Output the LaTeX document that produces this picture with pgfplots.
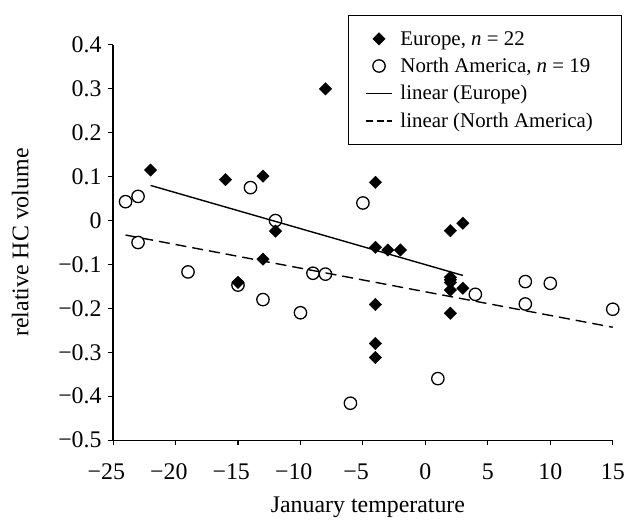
\documentclass[border=0pt]{standalone}
\usepackage{fontspec}
\setmainfont{Liberation Serif}
\usepackage{pgfplots}
\pgfplotsset{compat=1.18}

\begin{document}
\begin{tikzpicture}
\begin{axis}[
  scale only axis,
  width=500.7bp, height=396bp,
  xmin=-25, xmax=15, ymin=-0.5, ymax=0.4,
  axis lines*=left,
  x axis line style={-}, y axis line style={-},
  axis line style={line width=1.2bp},
  tick align=outside,
  major tick length=5bp,
  tick style={line width=1.1bp, black},
  xtick={-25,-20,-15,-10,-5,0,5,10,15},
  xticklabels={\llap{−}25,\llap{−}20,\llap{−}15,\llap{−}10,\llap{−}5,0,5,10,15},
  ytick={-0.5,-0.4,-0.3,-0.2,-0.1,0,0.1,0.2,0.3,0.4},
  yticklabels={−0.5,−0.4,−0.3,−0.2,−0.1,0,0.1,0.2,0.3,0.4},
  ticklabel style={font=\fontsize{24}{28}\selectfont},
  xticklabel style={yshift=-15bp},
  yticklabel style={xshift=-3bp},
  label style={font=\fontsize{24}{28}\selectfont},
  xlabel={January temperature},
  ylabel={relative HC volume},
  xlabel style={at={(axis description cs:0.51,-0.169)}, anchor=center},
  ylabel style={at={(axis description cs:-0.186,0.5)}, anchor=center},
  clip=false,
  legend cell align=left,
  legend style={
    at={(axis description cs:1.018,1.076)}, anchor=north east,
    draw=black, line width=0.8bp, fill=white,
    font=\fontsize{21}{25}\selectfont,
    row sep=7.5bp, inner xsep=6.5bp, inner ysep=14bp,
  },
  legend image code/.code={
    \path[draw=none, fill=none] (0bp,0bp) -- (44bp,0bp);
    \draw[mark repeat=2, mark phase=2, #1]
      plot coordinates {(11bp,0bp) (24.5bp,0bp) (38bp,0bp)};
  },
]
% Europe
\addplot[only marks, mark=square*, mark size=4.4bp,
  mark options={rotate=45, fill=black, draw=black, line width=0.4bp}]
  coordinates {
  (-22,0.115) (-16,0.093) (-13,0.101) (-8,0.300) (-12,-0.024)
  (-13,-0.088) (-15,-0.141) (-4,0.087) (-4,-0.061) (-3,-0.067)
  (-2,-0.067) (2,-0.023) (3,-0.006) (2,-0.129) (2,-0.135)
  (2,-0.141) (2,-0.158) (3,-0.154) (-4,-0.191) (2,-0.211)
  (-4,-0.280) (-4,-0.312)
};
\addlegendentry{Europe, \textit{n} = 22}
% North America
\addplot[only marks, mark=o, mark size=6.2bp,
  mark options={draw=black, line width=1.3bp}]
  coordinates {
  (-24,0.043) (-23,0.055) (-14,0.075) (-12,0.000) (-5,0.040)
  (-23,-0.050) (-19,-0.117) (-15,-0.147) (-13,-0.180) (-9,-0.120)
  (-8,-0.122) (-10,-0.210) (-6,-0.416) (1,-0.360) (4,-0.168)
  (8,-0.139) (10,-0.143) (8,-0.190) (15,-0.202)
};
\addlegendentry{North America, \textit{n} = 19}
\addplot[black, line width=1.4bp, mark=none] coordinates {(-22,0.080) (3,-0.125)};
\addlegendentry{linear (Europe)}
\addplot[black, line width=1.4bp, mark=none, dash pattern=on 11bp off 6bp,
  legend image post style={dash pattern=on 7bp off 4bp}]
  coordinates {(-24,-0.033) (15,-0.243)};
\addlegendentry{linear (North America)\hspace*{20bp}}
\end{axis}
\path ([shift={(-113.3bp,-81bp)}]current axis.south west)
  rectangle ([shift={(14bp,45bp)}]current axis.north east);
\end{tikzpicture}
\end{document}
